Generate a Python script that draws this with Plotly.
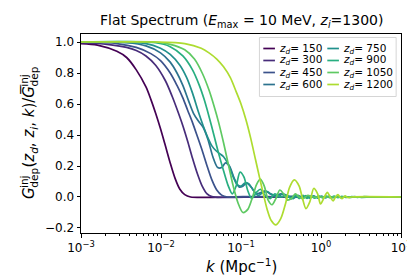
import numpy as np
import plotly.graph_objects as go

# ---------------- data ----------------
z_d = [150, 300, 450, 600, 750, 900, 1050, 1200]
colors = ["#440154", "#472c7a", "#3b528b", "#2c728e",
          "#21918c", "#28ae80", "#5ec962", "#addc30"]

logk_150 = [-3.0, -2.794, -2.552, -2.430, -2.309, -2.188, -2.127, -2.067, -2.006, -1.945,
            -1.885, -1.824, -1.764, -1.703, -1.630, -1.461, -0.976, 1.0]
g_150 = [0.99, 0.98, 0.94, 0.90, 0.82, 0.71, 0.63, 0.54, 0.44, 0.33,
         0.22, 0.12, 0.05, 0.015, 0.0, -0.003, 0.0, 0.0]

logk_300 = [-3.0, -2.673, -2.430, -2.309, -2.188, -2.067, -1.945, -1.861, -1.788, -1.727,
            -1.667, -1.606, -1.545, -1.485, -1.424, -1.364, -1.218, -0.733, 1.0]
g_300 = [0.995, 0.985, 0.965, 0.945, 0.91, 0.85, 0.75, 0.65, 0.55, 0.46,
         0.36, 0.25, 0.15, 0.07, 0.02, 0.002, -0.003, 0.0, 0.0]

logk_450 = [-3.0, -2.552, -2.309, -2.127, -2.006, -1.885, -1.800, -1.727, -1.667, -1.606,
            -1.545, -1.485, -1.424, -1.364, -1.303, -1.242, -1.170, -0.976, 1.0]
g_450 = [1.0, 0.99, 0.965, 0.925, 0.88, 0.80, 0.72, 0.64, 0.56, 0.48,
         0.39, 0.30, 0.20, 0.11, 0.045, 0.012, 0.0, 0.002, 0.0]

logk_600 = [-3.0, -2.430, -2.188, -2.006, -1.885, -1.800, -1.727, -1.655, -1.594, -1.533,
            -1.473, -1.412, -1.352, -1.291, -1.242, -1.194, -1.145, -1.085, -1.024, -0.976,
            -0.927, -0.867, -0.806, -0.745, -0.697, -0.636, -0.564, -0.503, -0.430, -0.309,
            -0.127, 1.0]
g_600 = [1.0, 0.995, 0.975, 0.93, 0.87, 0.80, 0.72, 0.62, 0.54, 0.49,
         0.45, 0.37, 0.26, 0.19, 0.19, 0.22, 0.20, 0.12, 0.065, 0.07,
         0.09, 0.06, 0.02, 0.03, 0.04, 0.02, 0.01, 0.02, 0.005, 0.005,
         0.0, 0.0]

logk_750 = [-3.0, -2.188, -2.006, -1.885, -1.764, -1.679, -1.606, -1.533, -1.473, -1.412,
            -1.364, -1.315, -1.267, -1.218, -1.158, -1.097, -1.048, -1.000, -0.952, -0.903,
            -0.842, -0.782, -0.721, -0.673, -0.612, -0.539, -0.479, -0.406, -0.345, -0.285,
            -0.236, -0.188, -0.139, -0.091, -0.042, 0.006, 0.055, 0.103, 0.152, 0.200,
            0.248, 0.297, 0.358, 0.418, 0.503, 0.624, 1.0]
g_750 = [1.0, 0.99, 0.96, 0.92, 0.85, 0.77, 0.67, 0.55, 0.46, 0.38,
         0.33, 0.30, 0.28, 0.26, 0.21, 0.13, 0.08, 0.07, 0.09, 0.085,
         0.04, 0.01, 0.03, 0.035, 0.015, 0.0, 0.02, 0.005, -0.01, 0.01,
         -0.01, 0.009, -0.008, 0.008, -0.007, 0.006, -0.006, 0.005, -0.005, 0.004,
         -0.004, 0.003, -0.003, 0.002, -0.002, 0.0, 0.0]

logk_900 = [-3.0, -2.067, -1.885, -1.727, -1.606, -1.521, -1.461, -1.400, -1.339, -1.279,
            -1.218, -1.158, -1.109, -1.061, -1.012, -0.964, -0.915, -0.867, -0.806, -0.758,
            -0.697, -0.636, -0.576, -0.503, -0.430, -0.370, -0.321, -0.273, -0.224, -0.176,
            -0.127, -0.079, -0.030, 0.018, 0.067, 0.115, 0.164, 0.212, 0.261, 0.321,
            0.382, 0.455, 0.539, 0.661, 1.0]
g_900 = [1.0, 0.995, 0.97, 0.91, 0.82, 0.72, 0.63, 0.52, 0.40, 0.28,
         0.17, 0.07, 0.02, 0.07, 0.16, 0.13, 0.04, -0.01, 0.03, 0.05,
         0.01, -0.01, 0.02, 0.0, 0.01, -0.012, 0.012, -0.01, 0.01, -0.009,
         0.008, -0.008, 0.007, -0.006, 0.006, -0.005, 0.005, -0.004, 0.004, -0.003,
         0.003, -0.002, 0.002, 0.0, 0.0]

logk_1050 = [-3.0, -2.067, -1.885, -1.703, -1.582, -1.485, -1.400, -1.339, -1.279, -1.218,
             -1.158, -1.097, -1.036, -0.976, -0.915, -0.855, -0.806, -0.758, -0.709, -0.661,
             -0.612, -0.564, -0.515, -0.467, -0.418, -0.370, -0.321, -0.273, -0.224, -0.164,
             -0.103, 0.115, 1.0]
g_1050 = [1.0, 1.0, 0.985, 0.95, 0.89, 0.80, 0.69, 0.59, 0.48, 0.35,
          0.21, 0.07, -0.04, -0.10, -0.08, 0.0, 0.08, 0.115, 0.07, -0.02,
          -0.05, -0.01, 0.045, 0.02, -0.02, -0.01, 0.02, 0.0, -0.01, 0.01,
          0.0, 0.0, 0.0]

logk_1200 = [-3.0, -2.067, -1.703, -1.497, -1.400, -1.303, -1.218, -1.133, -1.061, -1.000,
             -0.939, -0.879, -0.818, -0.770, -0.721, -0.673, -0.624, -0.564, -0.503, -0.442,
             -0.394, -0.333, -0.273, -0.236, -0.188, -0.139, -0.091, -0.042, -0.006, 0.042,
             0.079, 0.115, 0.152, 0.182, 0.212, 0.236, 0.261, 0.285, 0.303, 0.321,
             0.345, 0.382, 1.0]
g_1200 = [1.0, 1.0, 0.99, 0.96, 0.93, 0.89, 0.84, 0.77, 0.68, 0.60,
          0.50, 0.38, 0.24, 0.13, 0.02, -0.08, -0.15, -0.18, -0.14, -0.04,
          0.06, 0.11, 0.07, 0.0, -0.075, -0.03, 0.055, 0.02, -0.045, 0.0,
          0.03, 0.0, -0.025, 0.0, 0.015, 0.0, -0.01, 0.0, 0.007, 0.0,
          -0.004, 0.0, 0.0]

series_logk = [logk_150, logk_300, logk_450, logk_600, logk_750, logk_900, logk_1050, logk_1200]
series_g = [g_150, g_300, g_450, g_600, g_750, g_900, g_1050, g_1200]

x_ticks = [1e-3, 1e-2, 1e-1, 1e0, 1e1]
x_ticktext = ["10<sup>\u22123</sup>", "10<sup>\u22122</sup>", "10<sup>\u22121</sup>",
              "10<sup>0</sup>", "10<sup>1</sup>"]
y_ticks = [-0.2, 0.0, 0.2, 0.4, 0.6, 0.8, 1.0]

# ---------------- layout geometry (pixels) ----------------
W, H = 415, 277
L, R, T, B = 73, 403, 26, 225
FONT = "DejaVu Sans"


def px(x):
    return (x - L) / (R - L)


def py(y):
    return (B - y) / (B - T)


fig = go.Figure()
for lk, g, c in zip(series_logk, series_g, colors):
    fig.add_trace(go.Scatter(
        x=(10.0 ** np.array(lk)).tolist(), y=g, mode="lines",
        line=dict(color=c, width=1.7, shape="spline", smoothing=0.8),
        showlegend=False, hoverinfo="skip"))

minor_vals = [m * 10.0 ** e for e in range(-3, 1) for m in range(2, 10)]

fig.update_layout(
    width=W, height=H,
    margin=dict(l=L, r=W - R, t=T, b=H - B, pad=0),
    paper_bgcolor="white", plot_bgcolor="white",
    font=dict(family=FONT, size=12, color="black"),
    showlegend=False,
)
fig.update_xaxes(
    type="log", range=[-3, 1],
    tickmode="array", tickvals=x_ticks, ticktext=x_ticktext,
    ticks="outside", ticklen=3.5, tickwidth=1, tickcolor="black",
    minor=dict(tickmode="array", tickvals=minor_vals, ticks="outside",
               ticklen=2, tickwidth=0.7, tickcolor="black", showgrid=False),
    showline=True, linecolor="black", linewidth=1, mirror=True,
    showgrid=False, zeroline=False,
    tickfont=dict(family=FONT, size=12, color="black"),
)
fig.update_yaxes(
    range=[-0.2323, 1.0516],
    tickmode="array", tickvals=y_ticks, tickformat=".1f",
    ticks="outside", ticklen=3.5, tickwidth=1, tickcolor="black",
    showline=True, linecolor="black", linewidth=1, mirror=True,
    showgrid=False, zeroline=False,
    tickfont=dict(family=FONT, size=12, color="black"),
)

annotations = []
shapes = []


def ann(x, y, text, size, **kw):
    d = dict(xref="paper", yref="paper", x=px(x), y=py(y), text=text, showarrow=False,
             font=dict(family=FONT, size=size, color="black"), borderpad=0, borderwidth=0)
    d.update(kw)
    annotations.append(d)


# title
ann(238, 13, "Flat Spectrum (<i>E</i><sub>max</sub> = 10 MeV, <i>z</i><sub><i>i</i></sub>=1300)",
    14, xanchor="center", yanchor="middle")
# x label
ann(238, 258, "<i>k</i> (Mpc<sup>\u22121</sup>)", 15, xanchor="center", yanchor="middle")

# y label, built from pieces so that the super/subscripts can be stacked
F = 15.0
S = 0.7 * F
ADV = {"G": 0.777, "i": 0.278, "n": 0.634, "j": 0.278, "d": 0.635, "e": 0.615, "p": 0.635,
       "(": 0.390, ")": 0.390, "z": 0.525, ",": 0.318, " ": 0.318, "k": 0.579, "/": 0.337}


def wid(s, size):
    return sum(ADV[ch] for ch in s) * size


wA = wid("G", F)
wB = max(wid("inj", S), wid("dep", S))
wC = (wid("(z, z, k)/G", F) + wid("d", S) + wid("i", S))
total = wA + wB + wC + wB
xc = 20.0
y0 = 125.0 + total / 2.0
d_sup, d_sub = 0.40 * F, 0.30 * F
rot = dict(textangle=-90, xanchor="center", yanchor="bottom")
s = y0
ann(xc, s, "<i>G</i>", F, **rot)
s -= wA
ann(xc - d_sup, s, "inj", S, **rot)
ann(xc + d_sub, s, "dep", S, **rot)
s -= wB
ann(xc, s, "(<i>z</i><sub><i>d</i></sub>, <i>z</i><sub><i>i</i></sub>, <i>k</i>)/<i>G\u0305</i>",
    F, **rot)
s -= wC
ann(xc - d_sup, s, "inj", S, **rot)
ann(xc + d_sub, s, "dep", S, **rot)

# legend box
shapes.append(dict(type="rect", xref="paper", yref="paper",
                   x0=px(257), x1=px(398), y0=py(88.5), y1=py(29.5),
                   line=dict(color="#d5d5d5", width=1), fillcolor="rgba(255,255,255,0.85)",
                   layer="above"))
row_y = [40.5, 52.5, 64.5, 76.5]
col_hx = [(261, 273, 277), (327, 339, 343)]
for i, (z, c) in enumerate(zip(z_d, colors)):
    col = i // 4
    row = i % 4
    hx0, hx1, tx = col_hx[col]
    yy = row_y[row]
    shapes.append(dict(type="line", xref="paper", yref="paper",
                       x0=px(hx0), x1=px(hx1), y0=py(yy), y1=py(yy),
                       line=dict(color=c, width=1.7), layer="above"))
    ann(tx, yy, "<i>z</i><sub><i>d</i></sub>= %d" % z, 10.5, xanchor="left", yanchor="middle")

fig.update_layout(annotations=annotations, shapes=shapes)
fig.write_html("out.html")
